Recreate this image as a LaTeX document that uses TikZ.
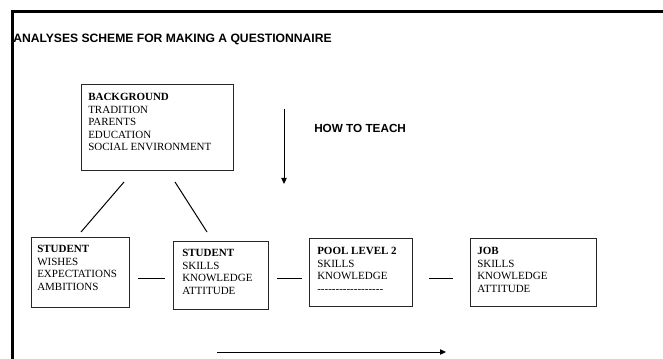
\documentclass[tikz,border=0pt]{standalone}
\usepackage{fontspec}
\setmainfont{Liberation Serif}
\newfontfamily\headfont{Liberation Sans}
\usetikzlibrary{arrows,arrows.meta,calc}

\begin{document}
\begin{tikzpicture}[x=0.75pt,y=-0.75pt,>={Triangle[length=4.5pt,width=4pt]},
 box/.style={draw=black!85, line width=0.9pt, inner sep=0, anchor=north west},
 boxtext/.style={anchor=north west, inner sep=0, font=\fontsize{8.25}{9.4}\selectfont},
 link/.style={draw, line width=0.75pt},
 heading/.style={inner sep=0, font=\headfont\bfseries\fontsize{8.8}{10}\selectfont}]
 \useasboundingbox (0,0) rectangle (663,359);
 % frame, cut by the page
 \draw[line width=2.25pt] (663,11.5) -- (12,11.5) -- (12,359);
 \node[heading, anchor=base west, font=\headfont\bfseries\fontsize{9.1}{10}\selectfont] (title) at (13,43) {ANALYSES SCHEME FOR MAKING A QUESTIONNAIRE};
 \node[heading, anchor=west] (teach) at (314,128) {HOW TO TEACH};
 % boxes
 \node[box, minimum width=114pt, minimum height=64.5pt] (bg) at (81,84) {};
 \node[boxtext] (bg_txt) at (88,91.5) {\begin{tabular}{@{}l@{}} \textbf{BACKGROUND}\\ TRADITION\\ PARENTS\\ EDUCATION\\ SOCIAL ENVIRONMENT \end{tabular}};
 \node[box, minimum width=73.5pt, minimum height=52.5pt] (stud1) at (31,237) {};
 \node[boxtext] (stud1_txt) at (37,243.5) {\begin{tabular}{@{}l@{}} \textbf{STUDENT}\\ WISHES\\ EXPECTATIONS\\ AMBITIONS \end{tabular}};
 \node[box, minimum width=71.25pt, minimum height=51pt] (stud2) at (173,241) {};
 \node[boxtext] (stud2_txt) at (182,247.5) {\begin{tabular}{@{}l@{}} \textbf{STUDENT}\\ SKILLS\\ KNOWLEDGE\\ ATTITUDE \end{tabular}};
 \node[box, minimum width=77.25pt, minimum height=51pt] (pool) at (309,238) {};
 \node[boxtext] (pool_txt) at (317,245.5) {\begin{tabular}{@{}l@{}} \textbf{POOL LEVEL 2}\\ SKILLS\\ KNOWLEDGE\\ -{}-{}-{}-{}-{}-{}-{}-{}-{}-{}-{}-{}-{}-{}-{}-{}-{}- \end{tabular}};
 \node[box, minimum width=94.5pt, minimum height=51pt] (job) at (470,238) {};
 \node[boxtext] (job_txt) at (477,245.5) {\begin{tabular}{@{}l@{}} \textbf{JOB}\\ SKILLS\\ KNOWLEDGE\\ ATTITUDE \end{tabular}};
 % connectors
 \coordinate (d1a) at (124,182); \coordinate (d1b) at (81,232);
 \coordinate (d2a) at (175,182); \coordinate (d2b) at (207,232);
 \coordinate (h1a) at (138,279); \coordinate (h1b) at (165,279);
 \coordinate (h2a) at (277,279); \coordinate (h2b) at (302,279);
 \coordinate (h3a) at (429,279); \coordinate (h3b) at (453,279);
 \coordinate (va) at (284,109); \coordinate (vb) at (284,184);
 \coordinate (ba) at (217,352); \coordinate (bb) at (446,352);
 \path[link] (d1a) -- (d1b);
 \path[link] (d2a) -- (d2b);
 \path[link] (h1a) -- (h1b);
 \path[link] (h2a) -- (h2b);
 \path[link] (h3a) -- (h3b);
 \path[link, ->] (va) -- (vb);
 \path[link, ->] (ba) -- (bb);
\end{tikzpicture}
\end{document}
